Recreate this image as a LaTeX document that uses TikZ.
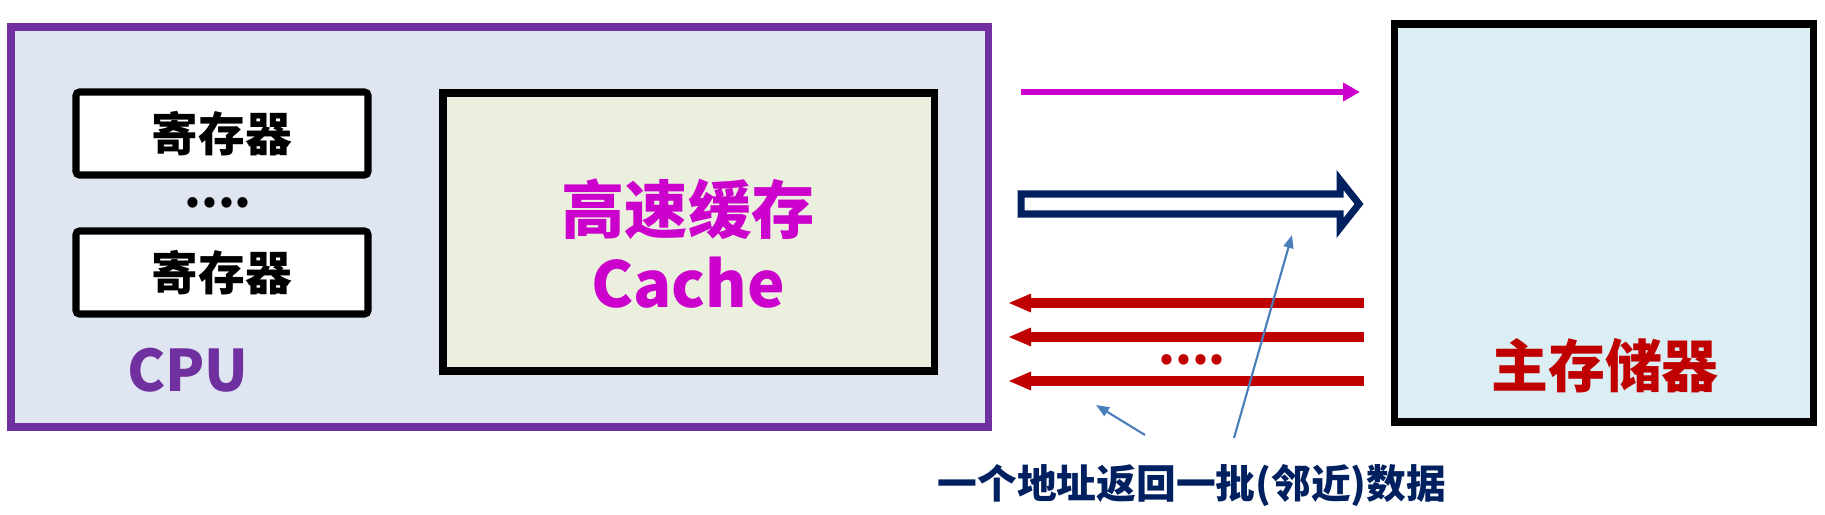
\documentclass[tikz,border=0pt]{standalone}
\usepackage{fontspec}
\setmainfont{Noto Sans CJK SC}
\usetikzlibrary{positioning, arrows.meta}
\definecolor{cpupurple}{HTML}{7030A0}
\definecolor{cpufill}{HTML}{DFE6F1}
\definecolor{cachefill}{HTML}{EBF0DE}
\definecolor{memfill}{HTML}{DAEEF3}
\definecolor{cachetext}{HTML}{CC00CC}
\definecolor{navy}{HTML}{002060}
\definecolor{darkred}{HTML}{C00000}
\definecolor{noteblue}{HTML}{4A7EBB}
\tikzstyle{unitbox}=[draw, rectangle, line width=2pt, inner sep=0pt]
\tikzstyle{register}=[unitbox, fill=white, minimum width=2.92cm, minimum height=0.83cm, rounded corners=1pt]
\tikzstyle{request}=[-{Triangle[length=0.17cm, width=0.18cm]}, cachetext, line width=1.9pt]
\tikzstyle{blockarrow}=[draw=navy, fill=white, line width=2pt]
\tikzstyle{reply}=[-{Triangle[length=0.23cm, width=0.17cm]}, darkred, line width=2.6pt]
\tikzstyle{pointer}=[-{Triangle[length=0.13cm, width=0.1cm]}, noteblue, line width=0.6pt]
\newcommand{\zh}[1]{\fontsize{#1}{#1}\selectfont\bfseries}

\begin{document}
\begin{tikzpicture}
    \useasboundingbox (0,0) rectangle (18.25,5.14);
    % CPU with registers and cache
    \node[unitbox, draw=cpupurple, fill=cpufill, minimum width=9.77cm, minimum height=4.00cm] (cpu) at (4.995, 2.87) {};
    \node[register] (reg1) at (2.22, 3.805) {\zh{13.3}寄存器};
    \node[register] (reg2) at (2.22, 2.415) {\zh{13.3}寄存器};
    \node (regdots) at (2.18, 3.11) {\zh{13.7}....};
    \node[text=cpupurple] (cpulabel) at (1.88, 1.44) {\zh{16.3}CPU};
    \node[unitbox, fill=cachefill, minimum width=4.91cm, minimum height=2.78cm] (cache) at (6.885, 2.82) {};
    \node[text=cachetext] (cachecn) at (6.88, 3.05) {\zh{18}高速缓存};
    \node[text=cachetext] (cacheen) at (6.88, 2.31) {\zh{18}Cache};
    % main memory
    \node[unitbox, fill=memfill, minimum width=4.19cm, minimum height=3.98cm] (mem) at (16.035, 2.91) {};
    \node[text=darkred] (memlabel) at (16.05, 1.48) {\zh{16.2}主存储器};
    % address out, block back
    \coordinate (reqs) at (10.21, 4.22);
    \coordinate (reqe) at (13.60, 4.22);
    \draw[request] (reqs) to (reqe);
    \coordinate (blk) at (10.21, 3.10);
    \draw[blockarrow] (blk) ++(0, 0.10) -- ++(3.19, 0) -- ++(0, 0.14) -- ++(0.19, -0.24)
        -- ++(-0.19, -0.24) -- ++(0, 0.14) -- ++(-3.19, 0) -- cycle;
    \coordinate (rep1s) at (13.64, 2.11);
    \coordinate (rep1e) at (10.08, 2.11);
    \coordinate (rep2s) at (13.64, 1.77);
    \coordinate (rep2e) at (10.08, 1.77);
    \coordinate (rep3s) at (13.64, 1.33);
    \coordinate (rep3e) at (10.08, 1.33);
    \draw[reply] (rep1s) to (rep1e);
    \draw[reply] (rep2s) to (rep2e);
    \draw[reply] (rep3s) to (rep3e);
    \node[text=darkred] (repdots) at (11.92, 1.54) {\zh{13.7}....};
    % note
    \node[text=navy] (note) at (11.92, 0.28) {\zh{11.3}一个地址返回一批(邻近)数据};
    \coordinate (pt1s) at (11.45, 0.79);
    \coordinate (pt1e) at (10.96, 1.09);
    \coordinate (pt2s) at (12.34, 0.76);
    \coordinate (pt2e) at (12.92, 2.79);
    \draw[pointer] (pt1s) to (pt1e);
    \draw[pointer] (pt2s) to (pt2e);
  \end{tikzpicture}
\end{document}
